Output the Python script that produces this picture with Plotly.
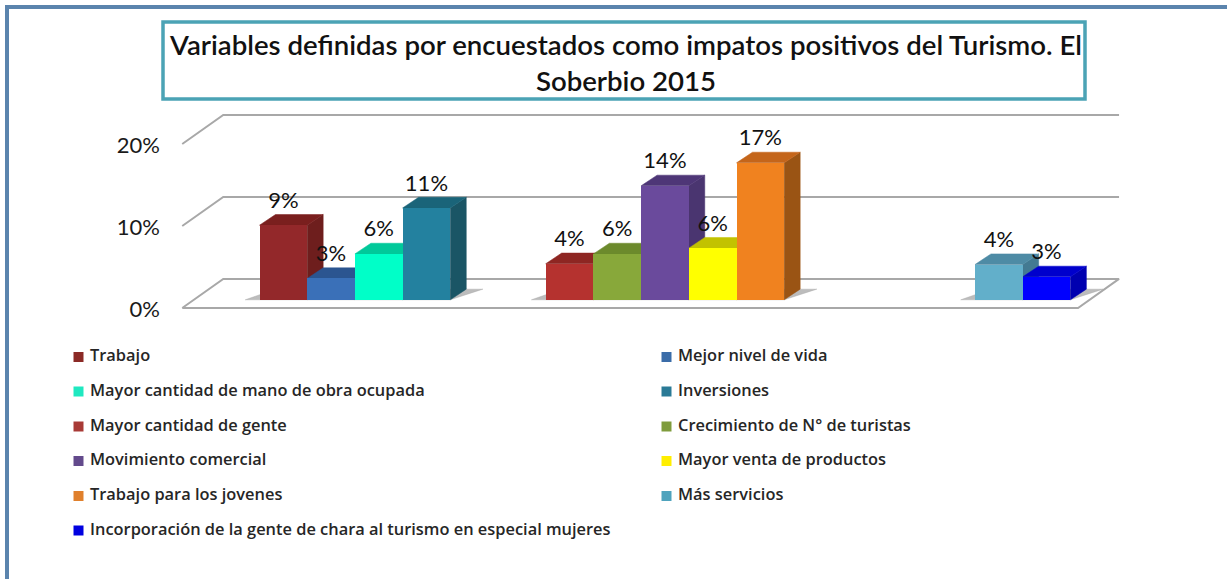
import plotly.graph_objects as go

TITLE = "Variables definidas por encuestados como impatos positivos del Turismo. El<br>Soberbio 2015"
names = ["Trabajo", "Mejor nivel de vida", "Mayor cantidad de mano de obra ocupada", "Inversiones",
         "Mayor cantidad de gente", "Crecimiento de N° de turistas", "Movimiento comercial",
         "Mayor venta de productos", "Trabajo para los jovenes", "Más servicios",
         "Incorporación de la gente de chara al turismo en especial mujeres"]
values = [9.1, 2.6, 5.6, 11.2, 4.4, 5.6, 13.9, 6.3, 16.7, 4.3, 2.8]
labels = ["9%", "3%", "6%", "11%", "4%", "6%", "14%", "6%", "17%", "4%", "3%"]
slots = [0, 1, 2, 3, 6, 7, 8, 9, 10, 15, 16]
front = ["#93282a", "#3a70b8", "#00ffc8", "#23819f", "#b5322f", "#88a83a", "#6a4a9c", "#ffff00", "#f0821f", "#62afca", "#0000ff"]
top = ["#7a1f1e", "#2b5590", "#00c99a", "#1a6479", "#8e2622", "#6c8a2c", "#4e3677", "#c2c200", "#c4651a", "#4e8ba5", "#0000cc"]
side = ["#6e1e1d", "#24487c", "#00a888", "#1a5565", "#7c211e", "#5c7626", "#4a3570", "#a8a800", "#9a5414", "#437a92", "#0000b0"]
swatch = ["#8b2a26", "#3a6ca8", "#1fe8c0", "#2a7a96", "#a83a36", "#7f9c3c", "#634a8c", "#ffee00", "#e0802c", "#4fa3bd", "#0000e0"]
ticks = [0, 10, 20]
tick_text = ["0%", "10%", "20%"]

W, H = 1227, 579
SLOT_PX, PCT_PX = 47.7, 8.2
X0_PX, Y0_PX = 259.5, 308
BASE = 1.0
DX, DY = 0.335, 1.3
WALL_DX, WALL_DY = 0.86, 3.55
FLOOR_L, FLOOR_R = -1.62, 17.16
GREY = "#a8a8a8"
FONT = "Lato"

PL, PR, PT, PB = 161, 1227, 100, 335
xr = [(PL - X0_PX) / SLOT_PX, (PR - X0_PX) / SLOT_PX]
yr = [(Y0_PX - PB) / PCT_PX, (Y0_PX - PT) / PCT_PX]

fig = go.Figure()

def poly(xs, ys, color, line=None):
    fig.add_trace(go.Scatter(x=xs + xs[:1], y=ys + ys[:1], mode="lines", fill="toself", fillcolor=color,
                             line=dict(color=line or color, width=2 if line else 0.5),
                             hoverinfo="skip", showlegend=False))

# floor
poly([FLOOR_L, FLOOR_L + WALL_DX, FLOOR_R + WALL_DX, FLOOR_R],
     [0, WALL_DY, WALL_DY, 0], "#ffffff", GREY)

# wall gridlines
for t in ticks[1:]:
    fig.add_trace(go.Scatter(x=[FLOOR_L, FLOOR_L + WALL_DX, FLOOR_R + WALL_DX],
                             y=[t, t + WALL_DY, t + WALL_DY], mode="lines",
                             line=dict(color=GREY, width=2), hoverinfo="skip", showlegend=False))

# floor shadows
for first, last in [(0, 3), (6, 10), (15, 16)]:
    r = last + 1 + DX
    poly([first - 0.3, r - DX, r + 0.35, r + 0.1, first + DX],
         [BASE, BASE, BASE + DY, BASE + DY, BASE + DY], "rgba(160,160,160,0.7)")

# depth faces
for s, v, tc, sc in zip(slots, values, top, side):
    poly([s + 1, s + 1 + DX, s + 1 + DX, s + 1],
         [BASE, BASE + DY, BASE + v + DY, BASE + v], sc)
    poly([s, s + DX, s + 1 + DX, s + 1],
         [BASE + v, BASE + v + DY, BASE + v + DY, BASE + v], tc)

# front faces
fig.add_trace(go.Bar(x=[s + 0.5 for s in slots], y=values, base=BASE, width=1.0,
                     marker=dict(color=front, line=dict(width=0)), xaxis="x2", yaxis="y2",
                     hovertext=names, showlegend=False))
fig.add_trace(go.Scatter(x=[s + 0.5 for s in slots], y=[BASE + v + 2.8 for v in values],
                         mode="text", text=labels, textposition="middle center",
                         textfont=dict(family=FONT, size=22, color="#111111"),
                         xaxis="x2", yaxis="y2", hoverinfo="skip", showlegend=False))

# legend entries, two columns filled row by row
COLS = [78.5, 666.5]
ROWS = [357, 391.5, 426.5, 461, 496, 530.5]
lx = [COLS[i % 2] for i in range(len(names))]
ly = [ROWS[i // 2] for i in range(len(names))]
fig.add_trace(go.Scatter(x=lx, y=ly, mode="markers+text", text=[" " + n for n in names],
                         textposition="middle right",
                         textfont=dict(family="Open Sans", size=16.4, color="#262626", weight=600),
                         marker=dict(symbol="square", size=10, color=swatch),
                         xaxis="x3", yaxis="y3", hoverinfo="skip", showlegend=False))

hidden = dict(visible=False, fixedrange=True)
fig.update_layout(
    width=W, height=H, margin=dict(l=0, r=0, t=0, b=0), autosize=False,
    paper_bgcolor="#ffffff", plot_bgcolor="rgba(0,0,0,0)", showlegend=False,
    bargap=0,
    font=dict(family=FONT),
    title=dict(text=TITLE, x=626 / W, xanchor="center", y=1 - 55 / H, yanchor="middle",
               font=dict(family=FONT, size=27.6, color="#111111", weight=600)),
    xaxis=dict(hidden, domain=[PL / W, PR / W], range=xr),
    yaxis=dict(domain=[1 - PB / H, 1 - PT / H], range=yr, tickmode="array", tickvals=ticks,
               ticktext=tick_text, showgrid=False, zeroline=False, showline=False, ticks="",
               tickfont=dict(family=FONT, size=22, color="#1a1a1a"), fixedrange=True,
               ticklabelshift=1),
    xaxis2=dict(hidden, domain=[PL / W, PR / W], range=xr, overlaying="x"),
    yaxis2=dict(hidden, domain=[1 - PB / H, 1 - PT / H], range=yr, overlaying="y"),
    xaxis3=dict(hidden, domain=[0, 1], range=[0, W], anchor="y3"),
    yaxis3=dict(hidden, domain=[0, 1], range=[H, 0], anchor="x3"),
    shapes=[
        dict(type="rect", xref="paper", yref="paper", x0=163 / W, x1=1085 / W, y0=1 - 99 / H, y1=1 - 22 / H,
             line=dict(color="#4ba3b5", width=3.5), layer="below"),
        dict(type="rect", xref="paper", yref="paper", x0=5 / W, x1=1, y0=1 - 9 / H, y1=1 - 5 / H,
             line=dict(width=0), fillcolor="#5b84ad", layer="below"),
        dict(type="rect", xref="paper", yref="paper", x0=5 / W, x1=9 / W, y0=0, y1=1 - 5 / H,
             line=dict(width=0), fillcolor="#5b84ad", layer="below"),
    ],
)

fig.write_html("out.html", config=dict(displayModeBar=False),
               post_script="document.body.style.margin='0';document.body.style.overflow='hidden';")
